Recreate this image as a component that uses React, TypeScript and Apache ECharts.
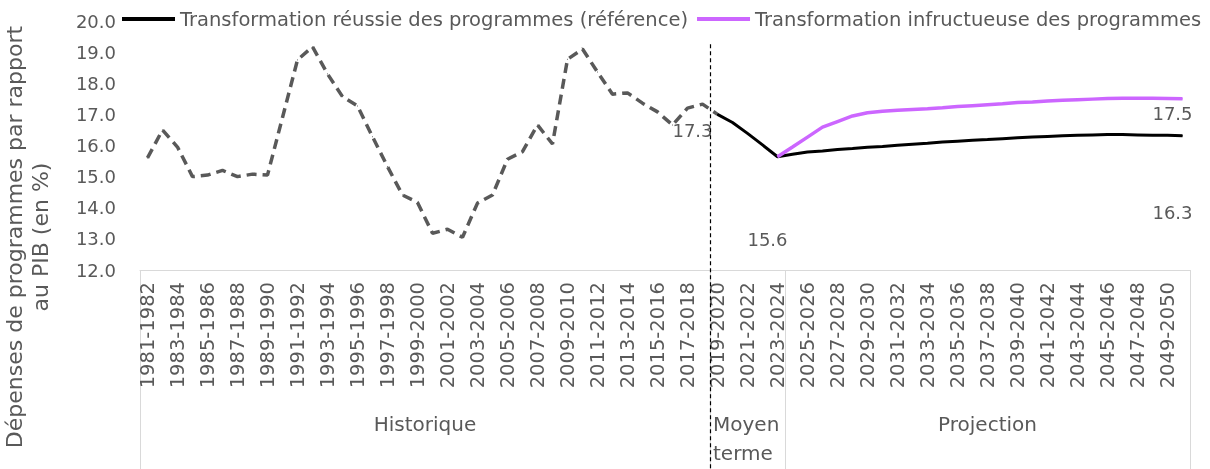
import React, { useEffect, useRef } from "react";
import * as echarts from "echarts";

const categories = [
  "1981-1982", "1982-1983", "1983-1984", "1984-1985", "1985-1986", "1986-1987", "1987-1988", "1988-1989",
  "1989-1990", "1990-1991", "1991-1992", "1992-1993", "1993-1994", "1994-1995", "1995-1996", "1996-1997",
  "1997-1998", "1998-1999", "1999-2000", "2000-2001", "2001-2002", "2002-2003", "2003-2004", "2004-2005",
  "2005-2006", "2006-2007", "2007-2008", "2008-2009", "2009-2010", "2010-2011", "2011-2012", "2012-2013",
  "2013-2014", "2014-2015", "2015-2016", "2016-2017", "2017-2018", "2018-2019", "2019-2020", "2020-2021",
  "2021-2022", "2022-2023", "2023-2024", "2024-2025", "2025-2026", "2026-2027", "2027-2028", "2028-2029",
  "2029-2030", "2030-2031", "2031-2032", "2032-2033", "2033-2034", "2034-2035", "2035-2036", "2036-2037",
  "2037-2038", "2038-2039", "2039-2040", "2040-2041", "2041-2042", "2042-2043", "2043-2044", "2044-2045",
  "2045-2046", "2046-2047", "2047-2048", "2048-2049", "2049-2050", "2050-2051",
];

// Historique (1981-1982 .. 2019-2020)
const historicalStart = 0;
const historical = [
  15.6, 16.5, 15.95, 15.0, 15.05, 15.2, 15.0, 15.08, 15.05, 16.9,
  18.75, 19.17, 18.3, 17.57, 17.27, 16.28, 15.32, 14.41, 14.17, 13.18,
  13.31, 13.05, 14.15, 14.41, 15.56, 15.8, 16.66, 16.05, 18.77, 19.1,
  18.36, 17.65, 17.69, 17.36, 17.08, 16.66, 17.2, 17.33, 17.0,
];

// Transformation réussie des programmes (référence) (2019-2020 .. 2050-2051)
const referenceStart = 38;
const reference = [
  17.0, 16.74, 16.39, 16.02, 15.64, 15.72, 15.79, 15.82, 15.87, 15.9,
  15.94, 15.97, 16.01, 16.04, 16.07, 16.11, 16.14, 16.17, 16.19, 16.22,
  16.25, 16.27, 16.29, 16.31, 16.33, 16.34, 16.35, 16.35, 16.34, 16.33,
  16.33, 16.31,
];

// Transformation infructueuse des programmes (2023-2024 .. 2050-2051)
const failureStart = 42;
const failure = [
  15.64, 15.95, 16.27, 16.59, 16.77, 16.95, 17.05, 17.1, 17.13, 17.16,
  17.18, 17.21, 17.25, 17.28, 17.31, 17.34, 17.38, 17.4, 17.43, 17.45,
  17.47, 17.49, 17.51, 17.52, 17.52, 17.52, 17.51, 17.5,
];

const seriesNames = [
  "Historique",
  "Transformation réussie des programmes (référence)",
  "Transformation infructueuse des programmes",
];

const groupNames = ["Historique", "Moyen\nterme", "Projection"];
const groupStarts = [0, 38, 43];

const yMin = 12;
const yMax = 20;
const yInterval = 1;
const yAxisTitle = "Dépenses de programmes par rapport\nau PIB (en %)";

const FONT = "'DejaVu Sans'";
const FS = 18;
const FS_LEGEND = 19.5;
const FS_CAT = 19.5;
const FS_GROUP = 20;
const FS_TITLE = 22;
const TEXT = "#595959";
const GRID_LINE = "#d9d9d9";

type LabelSpec = { index: number; offset: [number, number] };

function build(values: number[], start: number, labels: LabelSpec[]) {
  const arr: any[] = new Array(categories.length).fill(null);
  values.forEach((v, i) => {
    const idx = start + i;
    const lab = labels.find((l) => l.index === idx);
    if (lab) {
      arr[idx] = {
        value: v,
        label: {
          show: true,
          position: "inside",
          offset: lab.offset,
          formatter: (p: any) => Number(p.value).toFixed(1),
          color: TEXT,
          fontSize: FS,
          fontFamily: FONT,
        },
      };
    } else {
      arr[idx] = v;
    }
  });
  return arr;
}

export default function App() {
  const ref = useRef<HTMLDivElement>(null);

  useEffect(() => {
    if (!ref.current) return;
    const chart = echarts.init(ref.current, undefined, { renderer: "svg" });

    const lineCommon = {
      type: "line" as const,
      symbol: "circle",
      symbolSize: 1,
      showSymbol: true,
      showAllSymbol: true,
      connectNulls: false,
      silent: true,
      label: { show: false },
    };

    chart.setOption({
      animation: false,
      textStyle: { fontFamily: FONT },
      grid: { left: 140, right: 20, top: 21, bottom: 199, containLabel: false },
      legend: {
        data: [seriesNames[1], seriesNames[2]],
        left: 122,
        top: 9,
        padding: 0,
        itemGap: 9,
        itemWidth: 53,
        itemHeight: 4,
        icon: "rect",
        textStyle: { color: TEXT, fontSize: FS_LEGEND, fontFamily: FONT },
      },
      xAxis: {
        type: "category",
        data: categories,
        boundaryGap: true,
        axisLine: { show: true, lineStyle: { color: GRID_LINE, width: 1 } },
        axisTick: { show: false },
        axisLabel: {
          interval: 1,
          rotate: 90,
          margin: 12,
          color: TEXT,
          fontSize: FS_CAT,
          fontFamily: FONT,
        },
        splitLine: { show: false },
      },
      yAxis: {
        type: "value",
        min: yMin,
        max: yMax,
        interval: yInterval,
        axisLine: { show: false },
        axisTick: { show: false },
        splitLine: { show: false },
        axisLabel: {
          margin: 24,
          color: TEXT,
          fontSize: FS,
          fontFamily: FONT,
          formatter: (v: number) => v.toFixed(1),
        },
      },
      series: [
        {
          ...lineCommon,
          name: seriesNames[0],
          data: build(historical, historicalStart, [{ index: 37, offset: [-10, 26] }]),
          itemStyle: { color: "#595959" },
          lineStyle: { color: "#595959", width: 3.5, type: [10, 6] },
          z: 2,
        },
        {
          ...lineCommon,
          name: seriesNames[1],
          data: build(reference, referenceStart, [
            { index: 42, offset: [-10, 83] },
            { index: 69, offset: [-10, 77] },
          ]),
          itemStyle: { color: "#000000" },
          lineStyle: { color: "#000000", width: 3 },
          z: 3,
        },
        {
          ...lineCommon,
          name: seriesNames[2],
          data: build(failure, failureStart, [{ index: 69, offset: [-10, 15] }]),
          itemStyle: { color: "#cc66ff" },
          lineStyle: { color: "#cc66ff", width: 3.5 },
          z: 4,
        },
      ],
    });

    // Multi-level category boxes, derived from the category axis
    const c0 = chart.convertToPixel({ xAxisIndex: 0 }, 0) as number;
    const c1 = chart.convertToPixel({ xAxisIndex: 0 }, 1) as number;
    const bw = c1 - c0;
    const edge = (i: number) => c0 + (i - 0.5) * bw;
    const axisY = chart.convertToPixel({ yAxisIndex: 0 }, yMin) as number;
    const dividerTop = chart.convertToPixel({ yAxisIndex: 0 }, 19.25) as number;
    const H = chart.getHeight();
    const boundaries = [...groupStarts, categories.length];

    const elements: any[] = [];
    boundaries.forEach((b) => {
      const x = Math.round(edge(b)) + 0.5;
      elements.push({
        type: "line",
        shape: { x1: x, y1: axisY, x2: x, y2: H },
        style: { stroke: GRID_LINE, lineWidth: 1 },
        silent: true,
      });
    });
    groupNames.forEach((name, gi) => {
      const l = edge(boundaries[gi]);
      const r = edge(boundaries[gi + 1]);
      const narrow = name.includes("\n");
      elements.push({
        type: "text",
        x: narrow ? l + 3 : (l + r) / 2,
        y: axisY + 139,
        style: {
          text: name,
          fill: TEXT,
          font: `${FS_GROUP}px ${FONT}`,
          align: narrow ? "left" : "center",
          verticalAlign: "top",
          lineHeight: 29,
        },
        silent: true,
      });
    });
    // dashed separator between history and medium term
    const dx = Math.round(edge(groupStarts[1])) + 0.5;
    elements.push({
      type: "line",
      shape: { x1: dx, y1: dividerTop, x2: dx, y2: H },
      style: { stroke: "#000000", lineWidth: 1.2, lineDash: [4, 3] },
      silent: true,
      z: 10,
    });
    // y axis title
    elements.push({
      type: "text",
      x: 27,
      y: 237,
      rotation: Math.PI / 2,
      style: {
        text: yAxisTitle,
        fill: TEXT,
        font: `${FS_TITLE}px ${FONT}`,
        align: "center",
        verticalAlign: "middle",
        lineHeight: 26,
      },
      silent: true,
    });

    chart.setOption({ graphic: { elements } });

    return () => chart.dispose();
  }, []);

  return (
    <div
      ref={ref}
      style={{ position: "fixed", left: 0, top: 0, width: 1210, height: 469 }}
    />
  );
}
